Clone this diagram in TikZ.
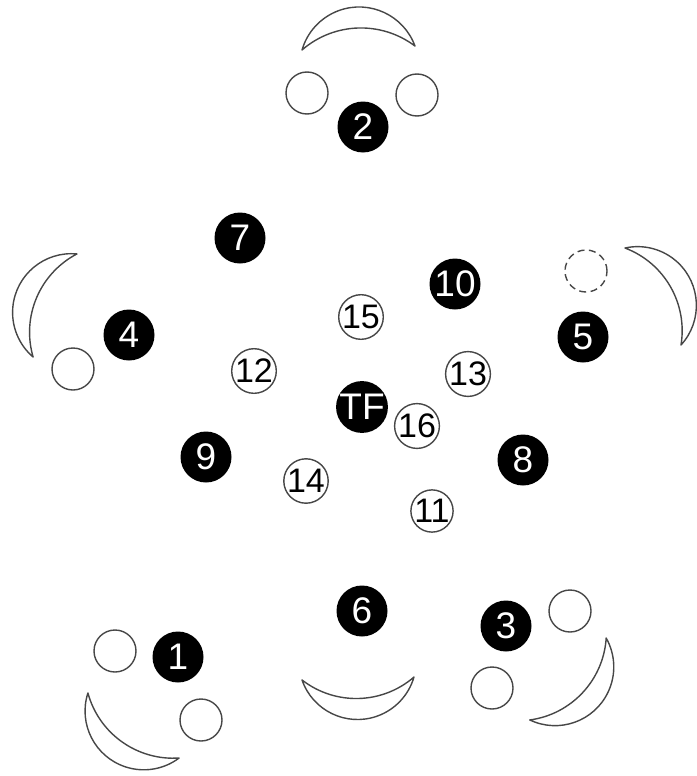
\documentclass[tikz,border=0pt]{standalone}
\usepackage{fontspec}
\setmainfont{Liberation Sans}
\newcommand\cres[4]{%
  \pgfmathsetmacro\Ro{(#4*#4/4+41*41)/(2*41)}%
  \pgfmathsetmacro\Ao{asin(#4/2/\Ro)}%
  \pgfmathsetmacro\Ri{(#4*#4/4+20*20)/(2*20)}%
  \pgfmathsetmacro\Ai{asin(#4/2/\Ri)}%
  \begin{scope}[shift={(#1,-#2)},rotate=#3-90]
    \draw[crs] (#4/2,0) arc[start angle=90-\Ao, end angle=90+\Ao, radius=\Ro]
      arc[start angle=90+\Ai, end angle=90-\Ai, radius=\Ri] -- cycle;
  \end{scope}}
\begin{document}
\begin{tikzpicture}[x=1pt,y=1pt,
  bk/.style={circle,fill=black,inner sep=0pt,minimum size=51pt,text=white,font=\fontsize{37}{37}\selectfont},
  wn/.style={circle,draw=black!72,line width=1.4pt,fill=white,inner sep=0pt,minimum size=41pt,font=\fontsize{34}{34}\selectfont},
  pl/.style={circle,draw=black!72,line width=1.4pt,fill=white,inner sep=0pt,minimum size=42pt},
  crs/.style={draw=black!72,line width=1.4pt,fill=white,line join=round}]
\useasboundingbox (0,0) rectangle (696,-776);
% black numbered
\node[bk] (n2) at (363,-127) {2};
\node[bk] (n7) at (240,-238) {7};
\node[bk] (n10) at (455,-284) {10};
\node[bk] (n4) at (129,-335) {4};
\node[bk] (n5) at (583,-337) {5};
\node[bk] (tf) at (362,-407) {TF};
\node[bk] (n9) at (206,-457) {9};
\node[bk] (n8) at (523,-460) {8};
\node[bk] (n6) at (362,-611) {6};
\node[bk] (n3) at (506,-626) {3};
\node[bk] (n1) at (178,-657) {1};
% white numbered
\node[wn] (n15) at (361,-317) {15};
\node[wn] (n12) at (254,-371) {12};
\node[wn] (n13) at (468,-374) {13};
\node[wn] (n16) at (417,-426) {16};
\node[wn] (n14) at (306,-481) {14};
\node[wn] (n11) at (432,-511) {11};
% plain circles
\node[pl] (c1) at (307,-93) {};
\node[pl] (c2) at (417,-95) {};
\node[pl] (c3) at (73,-369) {};
\node[pl,dash pattern=on 7pt off 4.5pt] (c4) at (586,-271) {};
\node[pl] (c5) at (115,-651) {};
\node[pl] (c6) at (201,-720) {};
\node[pl] (c7) at (570,-611) {};
\node[pl] (c8) at (492,-688) {};
% crescents
\cres{358.5}{48}{92}{113}
\cres{55}{305.5}{157}{112}
\cres{653}{296.5}{30}{112}
\cres{133.5}{725.5}{234.5}{112}
\cres{358}{678.5}{-88.5}{112}
\cres{568}{679}{-43}{112}
\end{tikzpicture}
\end{document}
